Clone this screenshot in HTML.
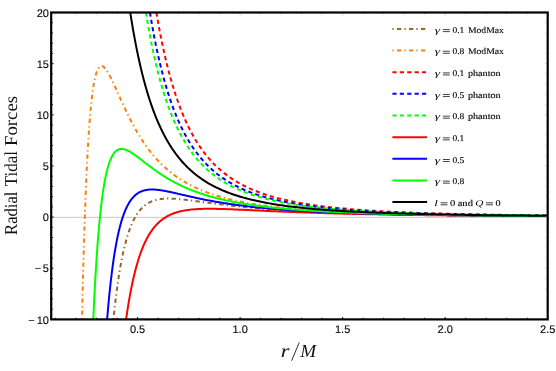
<!DOCTYPE html>
<html><head><meta charset="utf-8"><title>Radial Tidal Forces</title>
<style>html,body{margin:0;padding:0;background:#fff;}body{width:556px;height:371px;position:relative;overflow:hidden;font-family:"Liberation Sans",sans-serif;}</style>
</head><body>
<svg width="556" height="371" viewBox="0 0 556 371" style="position:absolute;left:0;top:0">
<defs><clipPath id="c"><rect x="51.2" y="12.5" width="496.50000000000006" height="306.9"/></clipPath></defs>
<rect width="556" height="371" fill="#fff"/>
<line x1="51.2" x2="547.7" y1="217.35" y2="217.35" stroke="#a0a0a0" stroke-width="0.6"/>
<g clip-path="url(#c)" fill="none" stroke-width="2" stroke-linejoin="round">
<path d="M113.42,319.40 L113.43,319.29 L113.87,314.97 L114.32,310.81 L114.76,306.80 L115.21,302.93 L115.65,299.19 L116.09,295.59 L116.54,292.12 L116.98,288.76 L117.43,285.53 L117.87,282.40 L118.31,279.39 L118.76,276.48 L119.20,273.67 L119.64,270.96 L120.09,268.35 L120.53,265.82 L120.98,263.39 L121.42,261.03 L121.86,258.76 L122.31,256.57 L122.75,254.45 L123.20,252.40 L123.64,250.43 L124.08,248.52 L124.53,246.68 L124.97,244.90 L125.42,243.18 L125.86,241.52 L126.30,239.92 L126.75,238.37 L127.19,236.88 L127.64,235.43 L128.08,234.04 L128.52,232.69 L128.97,231.39 L129.41,230.14 L129.86,228.92 L130.30,227.75 L130.74,226.62 L131.19,225.53 L131.63,224.47 L132.08,223.45 L132.52,222.47 L132.96,221.52 L133.41,220.60 L133.85,219.72 L134.30,218.86 L134.74,218.04 L135.18,217.24 L135.63,216.47 L136.07,215.73 L136.52,215.02 L136.96,214.33 L137.40,213.66 L137.85,213.02 L138.29,212.40 L138.74,211.80 L139.18,211.22 L139.62,210.66 L140.07,210.13 L140.51,209.61 L140.96,209.11 L141.40,208.63 L141.84,208.17 L142.29,207.72 L142.73,207.30 L143.18,206.88 L143.62,206.48 L144.06,206.10 L144.51,205.73 L144.95,205.38 L145.39,205.04 L145.84,204.71 L146.28,204.39 L146.73,204.09 L147.17,203.80 L147.61,203.52 L148.06,203.25 L148.50,202.99 L148.95,202.75 L149.39,202.51 L149.83,202.28 L150.28,202.06 L150.72,201.86 L151.17,201.66 L151.61,201.47 L152.05,201.28 L152.50,201.11 L152.94,200.94 L153.39,200.79 L153.83,200.63 L154.27,200.49 L154.72,200.35 L155.16,200.22 L155.61,200.10 L156.05,199.98 L156.49,199.87 L156.94,199.77 L157.38,199.67 L157.83,199.57 L158.27,199.48 L158.71,199.40 L159.16,199.32 L159.60,199.25 L160.05,199.18 L160.49,199.11 L160.93,199.05 L161.38,199.00 L161.82,198.95 L162.27,198.90 L162.71,198.86 L163.15,198.82 L163.60,198.78 L164.04,198.75 L164.49,198.72 L164.93,198.70 L165.37,198.67 L165.82,198.66 L166.26,198.64 L166.71,198.63 L167.15,198.62 L167.59,198.61 L168.04,198.60 L168.48,198.60 L168.93,198.60 L169.37,198.60 L169.81,198.61 L170.26,198.62 L170.70,198.63 L171.15,198.64 L171.59,198.65 L172.03,198.67 L172.48,198.68 L172.92,198.70 L173.36,198.72 L173.81,198.75 L174.25,198.77 L174.70,198.80 L175.14,198.82 L175.58,198.85 L176.03,198.88 L176.47,198.92 L176.92,198.95 L177.36,198.98 L177.80,199.02 L178.25,199.06 L178.69,199.09 L179.14,199.13 L179.58,199.17 L180.02,199.21 L180.47,199.26 L180.91,199.30 L181.36,199.34 L181.80,199.39 L182.24,199.43 L182.69,199.48 L183.13,199.53 L183.58,199.58 L184.02,199.63 L184.46,199.68 L184.91,199.73 L185.35,199.78 L185.80,199.83 L186.24,199.88 L186.68,199.93 L187.13,199.99 L187.57,200.04 L188.02,200.09 L188.46,200.15 L188.90,200.20 L189.35,200.26 L189.79,200.31 L190.24,200.37 L190.68,200.43 L191.12,200.48 L191.57,200.54 L192.01,200.60 L192.46,200.66 L192.90,200.71 L193.34,200.77 L193.79,200.83 L194.23,200.89 L194.68,200.95 L195.12,201.01 L195.56,201.07 L196.01,201.13 L196.45,201.19 L196.90,201.25 L197.34,201.31 L197.78,201.37 L198.23,201.43 L198.67,201.49 L199.12,201.55 L201.45,201.86 L203.79,202.18 L206.13,202.50 L208.47,202.82 L210.81,203.13 L213.15,203.44 L215.49,203.74 L217.83,204.04 L220.17,204.34 L222.51,204.63 L224.85,204.92 L227.19,205.20 L229.53,205.47 L231.87,205.74 L234.21,206.00 L236.55,206.26 L238.89,206.51 L241.23,206.75 L243.57,206.99 L245.90,207.22 L248.24,207.45 L250.58,207.67 L252.92,207.89 L255.26,208.09 L257.60,208.30 L259.94,208.50 L262.28,208.69 L264.62,208.88 L266.96,209.07 L269.30,209.24 L271.64,209.42 L273.98,209.59 L276.32,209.75 L278.66,209.92 L281.00,210.07 L283.34,210.22 L285.68,210.37 L288.02,210.52 L290.36,210.66 L292.69,210.80 L295.03,210.93 L297.37,211.06 L299.71,211.19 L302.05,211.31 L304.39,211.43 L306.73,211.55 L309.07,211.66 L311.41,211.77 L313.75,211.88 L316.09,211.99 L318.43,212.09 L320.77,212.19 L323.11,212.29 L325.45,212.38 L327.79,212.47 L330.13,212.56 L332.47,212.65 L334.81,212.74 L337.15,212.82 L339.48,212.90 L341.82,212.98 L344.16,213.06 L346.50,213.14 L348.84,213.21 L351.18,213.29 L353.52,213.36 L355.86,213.43 L358.20,213.49 L360.54,213.56 L362.88,213.62 L365.22,213.69 L367.56,213.75 L369.90,213.81 L372.24,213.87 L374.58,213.92 L376.92,213.98 L379.26,214.03 L381.60,214.09 L383.94,214.14 L386.27,214.19 L388.61,214.24 L390.95,214.29 L393.29,214.34 L395.63,214.38 L397.97,214.43 L400.31,214.47 L402.65,214.52 L404.99,214.56 L407.33,214.60 L409.67,214.64 L412.01,214.68 L414.35,214.72 L416.69,214.76 L419.03,214.80 L421.37,214.83 L423.71,214.87 L426.05,214.90 L428.39,214.94 L430.73,214.97 L433.06,215.01 L435.40,215.04 L437.74,215.07 L440.08,215.10 L442.42,215.13 L444.76,215.16 L447.10,215.19 L449.44,215.22 L451.78,215.25 L454.12,215.28 L456.46,215.30 L458.80,215.33 L461.14,215.36 L463.48,215.38 L465.82,215.41 L468.16,215.43 L470.50,215.45 L472.84,215.48 L475.18,215.50 L477.52,215.52 L479.85,215.55 L482.19,215.57 L484.53,215.59 L486.87,215.61 L489.21,215.63 L491.55,215.65 L493.89,215.67 L496.23,215.69 L498.57,215.71 L500.91,215.73 L503.25,215.75 L505.59,215.77 L507.93,215.79 L510.27,215.80 L512.61,215.82 L514.95,215.84 L517.29,215.85 L519.63,215.87 L521.97,215.89 L524.31,215.90 L526.64,215.92 L528.98,215.93 L531.32,215.95 L533.66,215.96 L536.00,215.98 L538.34,215.99 L540.68,216.01 L543.02,216.02 L545.36,216.03 L547.70,216.05" stroke="#9a6327" stroke-dasharray="1.3 3.3 4.3 3.1"/>
<path d="M82.01,319.40 L82.06,317.47 L82.50,298.29 L82.94,280.40 L83.39,263.73 L83.83,248.20 L84.28,233.73 L84.72,220.25 L85.16,207.69 L85.61,196.01 L86.05,185.14 L86.50,175.03 L86.94,165.62 L87.38,156.89 L87.83,148.78 L88.27,141.25 L88.72,134.27 L89.16,127.81 L89.60,121.82 L90.05,116.29 L90.49,111.17 L90.94,106.46 L91.38,102.11 L91.82,98.12 L92.27,94.45 L92.71,91.09 L93.15,88.02 L93.60,85.21 L94.04,82.66 L94.49,80.35 L94.93,78.26 L95.37,76.38 L95.82,74.70 L96.26,73.20 L96.71,71.87 L97.15,70.71 L97.59,69.70 L98.04,68.83 L98.48,68.09 L98.93,67.48 L99.37,66.99 L99.81,66.61 L100.26,66.33 L100.70,66.15 L101.15,66.05 L101.59,66.04 L102.03,66.12 L102.48,66.26 L102.92,66.47 L103.37,66.75 L103.81,67.09 L104.25,67.49 L104.70,67.93 L105.14,68.43 L105.59,68.97 L106.03,69.55 L106.47,70.17 L106.92,70.83 L107.36,71.53 L107.81,72.25 L108.25,73.00 L108.69,73.78 L109.14,74.58 L109.58,75.41 L110.03,76.25 L110.47,77.12 L110.91,78.00 L111.36,78.90 L111.80,79.81 L112.25,80.73 L112.69,81.67 L113.13,82.61 L113.58,83.57 L114.02,84.53 L114.47,85.50 L114.91,86.48 L115.35,87.46 L115.80,88.44 L116.24,89.43 L116.69,90.42 L117.13,91.41 L117.57,92.40 L118.02,93.40 L118.46,94.39 L118.90,95.38 L119.35,96.38 L119.79,97.37 L120.24,98.35 L120.68,99.34 L121.12,100.32 L121.57,101.30 L122.01,102.28 L122.46,103.25 L122.90,104.22 L123.34,105.18 L123.79,106.14 L124.23,107.10 L124.68,108.05 L125.12,108.99 L125.56,109.93 L126.01,110.86 L126.45,111.79 L126.90,112.71 L127.34,113.62 L127.78,114.53 L128.23,115.43 L128.67,116.33 L129.12,117.21 L129.56,118.10 L130.00,118.97 L130.45,119.84 L130.89,120.70 L131.34,121.55 L131.78,122.40 L132.22,123.24 L132.67,124.07 L133.11,124.90 L133.56,125.72 L134.00,126.53 L134.44,127.34 L134.89,128.13 L135.33,128.92 L135.78,129.71 L136.22,130.48 L136.66,131.25 L137.11,132.01 L137.55,132.77 L138.00,133.52 L138.44,134.26 L138.88,134.99 L139.33,135.72 L139.77,136.44 L140.22,137.15 L140.66,137.86 L141.10,138.56 L141.55,139.25 L141.99,139.93 L142.44,140.61 L142.88,141.29 L143.32,141.95 L143.77,142.61 L144.21,143.26 L144.66,143.91 L145.10,144.55 L145.54,145.18 L145.99,145.81 L146.43,146.43 L146.87,147.04 L147.32,147.65 L147.76,148.26 L148.21,148.85 L148.65,149.44 L149.09,150.03 L149.54,150.60 L149.98,151.18 L150.43,151.74 L150.87,152.30 L151.31,152.86 L151.76,153.41 L152.20,153.95 L152.65,154.49 L153.09,155.03 L153.53,155.55 L153.98,156.08 L154.42,156.59 L154.87,157.10 L155.31,157.61 L155.75,158.11 L156.20,158.61 L156.64,159.10 L157.09,159.59 L157.53,160.07 L157.97,160.54 L158.42,161.02 L158.86,161.48 L159.31,161.94 L159.75,162.40 L160.19,162.85 L160.64,163.30 L161.08,163.75 L161.53,164.18 L161.97,164.62 L162.41,165.05 L162.86,165.48 L163.30,165.90 L163.75,166.31 L164.19,166.73 L164.63,167.14 L165.08,167.54 L165.52,167.94 L165.97,168.34 L166.41,168.73 L166.85,169.12 L167.30,169.51 L167.74,169.89 L168.19,170.26 L168.63,170.64 L169.07,171.01 L169.52,171.37 L169.96,171.74 L170.41,172.09 L170.85,172.45 L171.29,172.80 L171.74,173.15 L172.18,173.49 L172.62,173.84 L173.07,174.17 L173.51,174.51 L173.96,174.84 L174.40,175.17 L174.84,175.49 L175.29,175.82 L175.73,176.13 L176.18,176.45 L176.62,176.76 L177.06,177.07 L177.51,177.38 L177.95,177.68 L178.40,177.98 L178.84,178.28 L179.28,178.58 L179.73,178.87 L180.17,179.16 L180.62,179.44 L181.06,179.73 L181.50,180.01 L181.95,180.29 L182.39,180.56 L182.84,180.83 L183.28,181.10 L183.72,181.37 L184.17,181.64 L184.61,181.90 L185.06,182.16 L185.50,182.42 L185.94,182.67 L186.39,182.93 L186.83,183.18 L187.28,183.42 L187.72,183.67 L188.16,183.91 L188.61,184.15 L189.05,184.39 L189.50,184.63 L189.94,184.87 L190.38,185.10 L190.83,185.33 L191.27,185.56 L191.72,185.78 L192.16,186.01 L192.60,186.23 L193.05,186.45 L193.49,186.67 L193.94,186.88 L194.38,187.10 L194.82,187.31 L195.27,187.52 L195.71,187.73 L196.16,187.93 L196.60,188.14 L197.04,188.34 L197.49,188.54 L197.93,188.74 L198.38,188.93 L198.82,189.13 L201.45,190.25 L203.79,191.20 L206.13,192.11 L208.47,192.97 L210.81,193.80 L213.15,194.59 L215.49,195.35 L217.83,196.07 L220.17,196.76 L222.51,197.42 L224.85,198.06 L227.19,198.67 L229.53,199.25 L231.87,199.81 L234.21,200.34 L236.55,200.86 L238.89,201.35 L241.23,201.83 L243.57,202.28 L245.90,202.72 L248.24,203.14 L250.58,203.55 L252.92,203.93 L255.26,204.31 L257.60,204.67 L259.94,205.02 L262.28,205.35 L264.62,205.68 L266.96,205.99 L269.30,206.29 L271.64,206.58 L273.98,206.86 L276.32,207.13 L278.66,207.39 L281.00,207.64 L283.34,207.88 L285.68,208.12 L288.02,208.34 L290.36,208.56 L292.69,208.78 L295.03,208.98 L297.37,209.18 L299.71,209.37 L302.05,209.56 L304.39,209.74 L306.73,209.91 L309.07,210.08 L311.41,210.25 L313.75,210.40 L316.09,210.56 L318.43,210.71 L320.77,210.85 L323.11,210.99 L325.45,211.13 L327.79,211.26 L330.13,211.39 L332.47,211.52 L334.81,211.64 L337.15,211.75 L339.48,211.87 L341.82,211.98 L344.16,212.09 L346.50,212.19 L348.84,212.30 L351.18,212.39 L353.52,212.49 L355.86,212.59 L358.20,212.68 L360.54,212.77 L362.88,212.85 L365.22,212.94 L367.56,213.02 L369.90,213.10 L372.24,213.18 L374.58,213.25 L376.92,213.33 L379.26,213.40 L381.60,213.47 L383.94,213.54 L386.27,213.60 L388.61,213.67 L390.95,213.73 L393.29,213.80 L395.63,213.86 L397.97,213.92 L400.31,213.97 L402.65,214.03 L404.99,214.08 L407.33,214.14 L409.67,214.19 L412.01,214.24 L414.35,214.29 L416.69,214.34 L419.03,214.39 L421.37,214.43 L423.71,214.48 L426.05,214.52 L428.39,214.57 L430.73,214.61 L433.06,214.65 L435.40,214.69 L437.74,214.73 L440.08,214.77 L442.42,214.81 L444.76,214.85 L447.10,214.88 L449.44,214.92 L451.78,214.95 L454.12,214.99 L456.46,215.02 L458.80,215.05 L461.14,215.09 L463.48,215.12 L465.82,215.15 L468.16,215.18 L470.50,215.21 L472.84,215.24 L475.18,215.26 L477.52,215.29 L479.85,215.32 L482.19,215.35 L484.53,215.37 L486.87,215.40 L489.21,215.42 L491.55,215.45 L493.89,215.47 L496.23,215.50 L498.57,215.52 L500.91,215.54 L503.25,215.56 L505.59,215.59 L507.93,215.61 L510.27,215.63 L512.61,215.65 L514.95,215.67 L517.29,215.69 L519.63,215.71 L521.97,215.73 L524.31,215.75 L526.64,215.77 L528.98,215.78 L531.32,215.80 L533.66,215.82 L536.00,215.84 L538.34,215.85 L540.68,215.87 L543.02,215.89 L545.36,215.90 L547.70,215.92" stroke="#ff8000" stroke-dasharray="1.3 3.3 4.3 3.1"/>
<path d="M156.38,12.50 L156.42,12.71 L156.86,15.32 L157.31,17.89 L157.75,20.41 L158.20,22.89 L158.64,25.33 L159.08,27.73 L159.53,30.09 L159.97,32.42 L160.42,34.70 L160.86,36.95 L161.30,39.16 L161.75,41.34 L162.19,43.48 L162.64,45.59 L163.08,47.67 L163.52,49.71 L163.97,51.72 L164.41,53.70 L164.86,55.65 L165.30,57.57 L165.74,59.45 L166.19,61.31 L166.63,63.14 L167.08,64.95 L167.52,66.72 L167.96,68.47 L168.41,70.19 L168.85,71.89 L169.30,73.56 L169.74,75.20 L170.18,76.83 L170.63,78.42 L171.07,80.00 L171.52,81.55 L171.96,83.07 L172.40,84.58 L172.85,86.06 L173.29,87.52 L173.73,88.96 L174.18,90.38 L174.62,91.78 L175.07,93.16 L175.51,94.51 L175.95,95.85 L176.40,97.17 L176.84,98.48 L177.29,99.76 L177.73,101.02 L178.17,102.27 L178.62,103.50 L179.06,104.71 L179.51,105.91 L179.95,107.09 L180.39,108.25 L180.84,109.40 L181.28,110.53 L181.73,111.64 L182.17,112.74 L182.61,113.83 L183.06,114.90 L183.50,115.95 L183.95,117.00 L184.39,118.02 L184.83,119.04 L185.28,120.04 L185.72,121.02 L186.17,122.00 L186.61,122.96 L187.05,123.91 L187.50,124.84 L187.94,125.77 L188.39,126.68 L188.83,127.58 L189.27,128.47 L189.72,129.34 L190.16,130.21 L190.61,131.06 L191.05,131.91 L191.49,132.74 L191.94,133.56 L192.38,134.37 L192.83,135.17 L193.27,135.96 L193.71,136.74 L194.16,137.51 L194.60,138.28 L195.05,139.03 L195.49,139.77 L195.93,140.50 L196.38,141.23 L196.82,141.94 L197.27,142.65 L197.71,143.35 L198.15,144.04 L198.60,144.72 L199.04,145.39 L201.45,148.91 L203.79,152.10 L206.13,155.10 L208.47,157.92 L210.81,160.58 L213.15,163.08 L215.49,165.44 L217.83,167.67 L220.17,169.77 L222.51,171.75 L224.85,173.63 L227.19,175.40 L229.53,177.09 L231.87,178.68 L234.21,180.19 L236.55,181.63 L238.89,182.99 L241.23,184.28 L243.57,185.51 L245.90,186.68 L248.24,187.80 L250.58,188.86 L252.92,189.87 L255.26,190.83 L257.60,191.75 L259.94,192.63 L262.28,193.46 L264.62,194.26 L266.96,195.03 L269.30,195.76 L271.64,196.46 L273.98,197.13 L276.32,197.77 L278.66,198.39 L281.00,198.98 L283.34,199.54 L285.68,200.08 L288.02,200.60 L290.36,201.10 L292.69,201.58 L295.03,202.04 L297.37,202.49 L299.71,202.91 L302.05,203.32 L304.39,203.72 L306.73,204.09 L309.07,204.46 L311.41,204.81 L313.75,205.15 L316.09,205.48 L318.43,205.79 L320.77,206.10 L323.11,206.39 L325.45,206.67 L327.79,206.95 L330.13,207.21 L332.47,207.46 L334.81,207.71 L337.15,207.95 L339.48,208.18 L341.82,208.40 L344.16,208.62 L346.50,208.82 L348.84,209.03 L351.18,209.22 L353.52,209.41 L355.86,209.59 L358.20,209.77 L360.54,209.94 L362.88,210.11 L365.22,210.27 L367.56,210.43 L369.90,210.58 L372.24,210.73 L374.58,210.87 L376.92,211.01 L379.26,211.14 L381.60,211.27 L383.94,211.40 L386.27,211.52 L388.61,211.64 L390.95,211.76 L393.29,211.87 L395.63,211.98 L397.97,212.09 L400.31,212.19 L402.65,212.29 L404.99,212.39 L407.33,212.49 L409.67,212.58 L412.01,212.67 L414.35,212.76 L416.69,212.85 L419.03,212.93 L421.37,213.01 L423.71,213.09 L426.05,213.17 L428.39,213.24 L430.73,213.32 L433.06,213.39 L435.40,213.46 L437.74,213.53 L440.08,213.59 L442.42,213.66 L444.76,213.72 L447.10,213.78 L449.44,213.84 L451.78,213.90 L454.12,213.96 L456.46,214.02 L458.80,214.07 L461.14,214.12 L463.48,214.18 L465.82,214.23 L468.16,214.28 L470.50,214.33 L472.84,214.37 L475.18,214.42 L477.52,214.47 L479.85,214.51 L482.19,214.55 L484.53,214.60 L486.87,214.64 L489.21,214.68 L491.55,214.72 L493.89,214.76 L496.23,214.79 L498.57,214.83 L500.91,214.87 L503.25,214.90 L505.59,214.94 L507.93,214.97 L510.27,215.01 L512.61,215.04 L514.95,215.07 L517.29,215.10 L519.63,215.13 L521.97,215.16 L524.31,215.19 L526.64,215.22 L528.98,215.25 L531.32,215.28 L533.66,215.31 L536.00,215.33 L538.34,215.36 L540.68,215.38 L543.02,215.41 L545.36,215.43 L547.70,215.46" stroke="#ff0000" stroke-dasharray="4.2 3.2"/>
<path d="M149.94,12.50 L149.98,12.75 L150.43,15.44 L150.87,18.08 L151.31,20.67 L151.76,23.22 L152.20,25.73 L152.65,28.19 L153.09,30.62 L153.53,33.00 L153.98,35.34 L154.42,37.64 L154.87,39.91 L155.31,42.14 L155.75,44.33 L156.20,46.48 L156.64,48.60 L157.09,50.69 L157.53,52.74 L157.97,54.76 L158.42,56.75 L158.86,58.70 L159.31,60.63 L159.75,62.52 L160.19,64.38 L160.64,66.21 L161.08,68.02 L161.53,69.80 L161.97,71.54 L162.41,73.27 L162.86,74.96 L163.30,76.63 L163.75,78.27 L164.19,79.89 L164.63,81.48 L165.08,83.05 L165.52,84.60 L165.97,86.12 L166.41,87.62 L166.85,89.09 L167.30,90.55 L167.74,91.98 L168.19,93.39 L168.63,94.78 L169.07,96.15 L169.52,97.50 L169.96,98.83 L170.41,100.14 L170.85,101.44 L171.29,102.71 L171.74,103.96 L172.18,105.20 L172.62,106.42 L173.07,107.62 L173.51,108.81 L173.96,109.97 L174.40,111.12 L174.84,112.26 L175.29,113.38 L175.73,114.48 L176.18,115.57 L176.62,116.64 L177.06,117.70 L177.51,118.74 L177.95,119.77 L178.40,120.79 L178.84,121.79 L179.28,122.78 L179.73,123.75 L180.17,124.71 L180.62,125.66 L181.06,126.59 L181.50,127.51 L181.95,128.42 L182.39,129.32 L182.84,130.21 L183.28,131.08 L183.72,131.95 L184.17,132.80 L184.61,133.64 L185.06,134.47 L185.50,135.28 L185.94,136.09 L186.39,136.89 L186.83,137.68 L187.28,138.45 L187.72,139.22 L188.16,139.98 L188.61,140.72 L189.05,141.46 L189.50,142.19 L189.94,142.91 L190.38,143.62 L190.83,144.32 L191.27,145.01 L191.72,145.70 L192.16,146.37 L192.60,147.04 L193.05,147.70 L193.49,148.35 L193.94,148.99 L194.38,149.62 L194.82,150.25 L195.27,150.87 L195.71,151.48 L196.16,152.09 L196.60,152.68 L197.04,153.27 L197.49,153.85 L197.93,154.43 L198.38,155.00 L198.82,155.56 L201.45,158.76 L203.79,161.42 L206.13,163.92 L208.47,166.28 L210.81,168.50 L213.15,170.59 L215.49,172.57 L217.83,174.44 L220.17,176.20 L222.51,177.87 L224.85,179.45 L227.19,180.95 L229.53,182.37 L231.87,183.72 L234.21,185.00 L236.55,186.21 L238.89,187.36 L241.23,188.46 L243.57,189.51 L245.90,190.50 L248.24,191.45 L250.58,192.36 L252.92,193.22 L255.26,194.04 L257.60,194.83 L259.94,195.58 L262.28,196.30 L264.62,196.98 L266.96,197.64 L269.30,198.27 L271.64,198.87 L273.98,199.45 L276.32,200.00 L278.66,200.53 L281.00,201.04 L283.34,201.53 L285.68,202.00 L288.02,202.45 L290.36,202.88 L292.69,203.30 L295.03,203.70 L297.37,204.08 L299.71,204.45 L302.05,204.81 L304.39,205.15 L306.73,205.48 L309.07,205.80 L311.41,206.11 L313.75,206.40 L316.09,206.69 L318.43,206.96 L320.77,207.23 L323.11,207.49 L325.45,207.74 L327.79,207.97 L330.13,208.21 L332.47,208.43 L334.81,208.65 L337.15,208.86 L339.48,209.06 L341.82,209.25 L344.16,209.44 L346.50,209.63 L348.84,209.81 L351.18,209.98 L353.52,210.14 L355.86,210.31 L358.20,210.46 L360.54,210.61 L362.88,210.76 L365.22,210.91 L367.56,211.04 L369.90,211.18 L372.24,211.31 L374.58,211.44 L376.92,211.56 L379.26,211.68 L381.60,211.80 L383.94,211.91 L386.27,212.02 L388.61,212.13 L390.95,212.23 L393.29,212.33 L395.63,212.43 L397.97,212.52 L400.31,212.62 L402.65,212.71 L404.99,212.80 L407.33,212.88 L409.67,212.96 L412.01,213.05 L414.35,213.12 L416.69,213.20 L419.03,213.28 L421.37,213.35 L423.71,213.42 L426.05,213.49 L428.39,213.56 L430.73,213.63 L433.06,213.69 L435.40,213.75 L437.74,213.81 L440.08,213.87 L442.42,213.93 L444.76,213.99 L447.10,214.05 L449.44,214.10 L451.78,214.15 L454.12,214.20 L456.46,214.26 L458.80,214.30 L461.14,214.35 L463.48,214.40 L465.82,214.45 L468.16,214.49 L470.50,214.54 L472.84,214.58 L475.18,214.62 L477.52,214.66 L479.85,214.70 L482.19,214.74 L484.53,214.78 L486.87,214.82 L489.21,214.86 L491.55,214.89 L493.89,214.93 L496.23,214.96 L498.57,215.00 L500.91,215.03 L503.25,215.06 L505.59,215.09 L507.93,215.12 L510.27,215.15 L512.61,215.18 L514.95,215.21 L517.29,215.24 L519.63,215.27 L521.97,215.30 L524.31,215.33 L526.64,215.35 L528.98,215.38 L531.32,215.40 L533.66,215.43 L536.00,215.45 L538.34,215.48 L540.68,215.50 L543.02,215.52 L545.36,215.55 L547.70,215.57" stroke="#0000ff" stroke-dasharray="4.2 3.2"/>
<path d="M145.97,12.50 L145.99,12.64 L146.43,15.37 L146.87,18.05 L147.32,20.69 L147.76,23.28 L148.21,25.83 L148.65,28.33 L149.09,30.79 L149.54,33.21 L149.98,35.58 L150.43,37.92 L150.87,40.22 L151.31,42.47 L151.76,44.69 L152.20,46.88 L152.65,49.02 L153.09,51.14 L153.53,53.21 L153.98,55.25 L154.42,57.26 L154.87,59.24 L155.31,61.18 L155.75,63.10 L156.20,64.98 L156.64,66.83 L157.09,68.65 L157.53,70.44 L157.97,72.21 L158.42,73.94 L158.86,75.65 L159.31,77.34 L159.75,78.99 L160.19,80.62 L160.64,82.23 L161.08,83.81 L161.53,85.36 L161.97,86.90 L162.41,88.40 L162.86,89.89 L163.30,91.35 L163.75,92.79 L164.19,94.21 L164.63,95.61 L165.08,96.99 L165.52,98.34 L165.97,99.68 L166.41,101.00 L166.85,102.29 L167.30,103.57 L167.74,104.83 L168.19,106.07 L168.63,107.29 L169.07,108.50 L169.52,109.69 L169.96,110.86 L170.41,112.01 L170.85,113.15 L171.29,114.27 L171.74,115.38 L172.18,116.46 L172.62,117.54 L173.07,118.60 L173.51,119.64 L173.96,120.67 L174.40,121.69 L174.84,122.69 L175.29,123.68 L175.73,124.65 L176.18,125.61 L176.62,126.56 L177.06,127.49 L177.51,128.41 L177.95,129.32 L178.40,130.22 L178.84,131.11 L179.28,131.98 L179.73,132.84 L180.17,133.69 L180.62,134.53 L181.06,135.36 L181.50,136.17 L181.95,136.98 L182.39,137.77 L182.84,138.56 L183.28,139.33 L183.72,140.10 L184.17,140.85 L184.61,141.60 L185.06,142.33 L185.50,143.06 L185.94,143.77 L186.39,144.48 L186.83,145.18 L187.28,145.87 L187.72,146.55 L188.16,147.22 L188.61,147.89 L189.05,148.54 L189.50,149.19 L189.94,149.83 L190.38,150.46 L190.83,151.08 L191.27,151.70 L191.72,152.31 L192.16,152.91 L192.60,153.50 L193.05,154.09 L193.49,154.67 L193.94,155.24 L194.38,155.80 L194.82,156.36 L195.27,156.91 L195.71,157.46 L196.16,158.00 L196.60,158.53 L197.04,159.06 L197.49,159.57 L197.93,160.09 L198.38,160.60 L198.82,161.10 L201.45,163.96 L203.79,166.33 L206.13,168.57 L208.47,170.68 L210.81,172.67 L213.15,174.55 L215.49,176.33 L217.83,178.00 L220.17,179.59 L222.51,181.10 L224.85,182.52 L227.19,183.87 L229.53,185.15 L231.87,186.37 L234.21,187.53 L236.55,188.63 L238.89,189.67 L241.23,190.67 L243.57,191.62 L245.90,192.52 L248.24,193.38 L250.58,194.20 L252.92,194.99 L255.26,195.74 L257.60,196.45 L259.94,197.14 L262.28,197.79 L264.62,198.42 L266.96,199.02 L269.30,199.59 L271.64,200.14 L273.98,200.67 L276.32,201.18 L278.66,201.66 L281.00,202.13 L283.34,202.58 L285.68,203.01 L288.02,203.42 L290.36,203.82 L292.69,204.20 L295.03,204.57 L297.37,204.92 L299.71,205.26 L302.05,205.59 L304.39,205.91 L306.73,206.21 L309.07,206.51 L311.41,206.79 L313.75,207.06 L316.09,207.33 L318.43,207.58 L320.77,207.83 L323.11,208.07 L325.45,208.30 L327.79,208.52 L330.13,208.73 L332.47,208.94 L334.81,209.14 L337.15,209.33 L339.48,209.52 L341.82,209.70 L344.16,209.88 L346.50,210.05 L348.84,210.22 L351.18,210.38 L353.52,210.53 L355.86,210.68 L358.20,210.83 L360.54,210.97 L362.88,211.11 L365.22,211.24 L367.56,211.37 L369.90,211.50 L372.24,211.62 L374.58,211.74 L376.92,211.85 L379.26,211.96 L381.60,212.07 L383.94,212.18 L386.27,212.28 L388.61,212.38 L390.95,212.48 L393.29,212.57 L395.63,212.66 L397.97,212.75 L400.31,212.84 L402.65,212.93 L404.99,213.01 L407.33,213.09 L409.67,213.17 L412.01,213.24 L414.35,213.32 L416.69,213.39 L419.03,213.46 L421.37,213.53 L423.71,213.60 L426.05,213.66 L428.39,213.73 L430.73,213.79 L433.06,213.85 L435.40,213.91 L437.74,213.97 L440.08,214.02 L442.42,214.08 L444.76,214.13 L447.10,214.18 L449.44,214.23 L451.78,214.28 L454.12,214.33 L456.46,214.38 L458.80,214.43 L461.14,214.47 L463.48,214.52 L465.82,214.56 L468.16,214.61 L470.50,214.65 L472.84,214.69 L475.18,214.73 L477.52,214.77 L479.85,214.80 L482.19,214.84 L484.53,214.88 L486.87,214.91 L489.21,214.95 L491.55,214.98 L493.89,215.02 L496.23,215.05 L498.57,215.08 L500.91,215.11 L503.25,215.14 L505.59,215.17 L507.93,215.20 L510.27,215.23 L512.61,215.26 L514.95,215.29 L517.29,215.32 L519.63,215.34 L521.97,215.37 L524.31,215.39 L526.64,215.42 L528.98,215.44 L531.32,215.47 L533.66,215.49 L536.00,215.52 L538.34,215.54 L540.68,215.56 L543.02,215.58 L545.36,215.60 L547.70,215.63" stroke="#00ff00" stroke-dasharray="4.2 3.2"/>
<path d="M126.09,319.40 L126.16,318.91 L126.60,315.83 L127.04,312.85 L127.49,309.95 L127.93,307.13 L128.38,304.40 L128.82,301.74 L129.26,299.16 L129.71,296.65 L130.15,294.22 L130.60,291.86 L131.04,289.56 L131.48,287.33 L131.93,285.16 L132.37,283.05 L132.82,281.00 L133.26,279.01 L133.70,277.08 L134.15,275.20 L134.59,273.37 L135.04,271.59 L135.48,269.86 L135.92,268.18 L136.37,266.55 L136.81,264.96 L137.26,263.42 L137.70,261.91 L138.14,260.45 L138.59,259.03 L139.03,257.65 L139.48,256.30 L139.92,255.00 L140.36,253.72 L140.81,252.49 L141.25,251.28 L141.70,250.11 L142.14,248.97 L142.58,247.86 L143.03,246.78 L143.47,245.73 L143.92,244.71 L144.36,243.71 L144.80,242.74 L145.25,241.80 L145.69,240.88 L146.13,239.99 L146.58,239.12 L147.02,238.28 L147.47,237.45 L147.91,236.65 L148.35,235.87 L148.80,235.11 L149.24,234.37 L149.69,233.65 L150.13,232.95 L150.57,232.27 L151.02,231.60 L151.46,230.96 L151.91,230.33 L152.35,229.72 L152.79,229.12 L153.24,228.54 L153.68,227.97 L154.13,227.42 L154.57,226.88 L155.01,226.36 L155.46,225.85 L155.90,225.36 L156.35,224.87 L156.79,224.40 L157.23,223.95 L157.68,223.50 L158.12,223.07 L158.57,222.65 L159.01,222.24 L159.45,221.84 L159.90,221.45 L160.34,221.07 L160.79,220.70 L161.23,220.34 L161.67,219.99 L162.12,219.65 L162.56,219.31 L163.01,218.99 L163.45,218.68 L163.89,218.37 L164.34,218.07 L164.78,217.78 L165.23,217.50 L165.67,217.23 L166.11,216.96 L166.56,216.70 L167.00,216.45 L167.45,216.20 L167.89,215.96 L168.33,215.73 L168.78,215.50 L169.22,215.28 L169.67,215.06 L170.11,214.86 L170.55,214.65 L171.00,214.45 L171.44,214.26 L171.89,214.08 L172.33,213.89 L172.77,213.72 L173.22,213.55 L173.66,213.38 L174.10,213.22 L174.55,213.06 L174.99,212.91 L175.44,212.76 L175.88,212.61 L176.32,212.47 L176.77,212.33 L177.21,212.20 L177.66,212.07 L178.10,211.95 L178.54,211.83 L178.99,211.71 L179.43,211.59 L179.88,211.48 L180.32,211.38 L180.76,211.27 L181.21,211.17 L181.65,211.07 L182.10,210.98 L182.54,210.88 L182.98,210.80 L183.43,210.71 L183.87,210.63 L184.32,210.54 L184.76,210.47 L185.20,210.39 L185.65,210.32 L186.09,210.24 L186.54,210.18 L186.98,210.11 L187.42,210.05 L187.87,209.98 L188.31,209.92 L188.76,209.87 L189.20,209.81 L189.64,209.76 L190.09,209.70 L190.53,209.65 L190.98,209.61 L191.42,209.56 L191.86,209.52 L192.31,209.47 L192.75,209.43 L193.20,209.39 L193.64,209.35 L194.08,209.32 L194.53,209.28 L194.97,209.25 L195.42,209.22 L195.86,209.19 L196.30,209.16 L196.75,209.13 L197.19,209.10 L197.64,209.08 L198.08,209.05 L198.52,209.03 L198.97,209.01 L201.45,208.91 L203.79,208.85 L206.13,208.81 L208.47,208.79 L210.81,208.79 L213.15,208.81 L215.49,208.84 L217.83,208.89 L220.17,208.94 L222.51,209.01 L224.85,209.08 L227.19,209.16 L229.53,209.25 L231.87,209.34 L234.21,209.43 L236.55,209.53 L238.89,209.64 L241.23,209.74 L243.57,209.85 L245.90,209.96 L248.24,210.06 L250.58,210.17 L252.92,210.28 L255.26,210.39 L257.60,210.50 L259.94,210.61 L262.28,210.72 L264.62,210.83 L266.96,210.93 L269.30,211.04 L271.64,211.14 L273.98,211.25 L276.32,211.35 L278.66,211.45 L281.00,211.55 L283.34,211.65 L285.68,211.74 L288.02,211.84 L290.36,211.93 L292.69,212.02 L295.03,212.11 L297.37,212.20 L299.71,212.29 L302.05,212.37 L304.39,212.46 L306.73,212.54 L309.07,212.62 L311.41,212.70 L313.75,212.78 L316.09,212.85 L318.43,212.93 L320.77,213.00 L323.11,213.07 L325.45,213.14 L327.79,213.21 L330.13,213.28 L332.47,213.34 L334.81,213.41 L337.15,213.47 L339.48,213.53 L341.82,213.59 L344.16,213.65 L346.50,213.71 L348.84,213.77 L351.18,213.83 L353.52,213.88 L355.86,213.94 L358.20,213.99 L360.54,214.04 L362.88,214.09 L365.22,214.14 L367.56,214.19 L369.90,214.24 L372.24,214.28 L374.58,214.33 L376.92,214.37 L379.26,214.42 L381.60,214.46 L383.94,214.50 L386.27,214.54 L388.61,214.59 L390.95,214.62 L393.29,214.66 L395.63,214.70 L397.97,214.74 L400.31,214.78 L402.65,214.81 L404.99,214.85 L407.33,214.88 L409.67,214.92 L412.01,214.95 L414.35,214.98 L416.69,215.01 L419.03,215.05 L421.37,215.08 L423.71,215.11 L426.05,215.14 L428.39,215.16 L430.73,215.19 L433.06,215.22 L435.40,215.25 L437.74,215.28 L440.08,215.30 L442.42,215.33 L444.76,215.35 L447.10,215.38 L449.44,215.40 L451.78,215.43 L454.12,215.45 L456.46,215.47 L458.80,215.50 L461.14,215.52 L463.48,215.54 L465.82,215.56 L468.16,215.58 L470.50,215.61 L472.84,215.63 L475.18,215.65 L477.52,215.67 L479.85,215.68 L482.19,215.70 L484.53,215.72 L486.87,215.74 L489.21,215.76 L491.55,215.78 L493.89,215.79 L496.23,215.81 L498.57,215.83 L500.91,215.85 L503.25,215.86 L505.59,215.88 L507.93,215.89 L510.27,215.91 L512.61,215.92 L514.95,215.94 L517.29,215.95 L519.63,215.97 L521.97,215.98 L524.31,216.00 L526.64,216.01 L528.98,216.02 L531.32,216.04 L533.66,216.05 L536.00,216.06 L538.34,216.08 L540.68,216.09 L543.02,216.10 L545.36,216.11 L547.70,216.12" stroke="#ff0000" />
<path d="M107.13,319.40 L107.14,319.23 L107.58,313.92 L108.03,308.82 L108.47,303.92 L108.92,299.21 L109.36,294.70 L109.80,290.36 L110.25,286.19 L110.69,282.19 L111.14,278.34 L111.58,274.65 L112.02,271.10 L112.47,267.68 L112.91,264.41 L113.36,261.26 L113.80,258.23 L114.24,255.32 L114.69,252.53 L115.13,249.84 L115.58,247.26 L116.02,244.78 L116.46,242.39 L116.91,240.10 L117.35,237.90 L117.80,235.79 L118.24,233.75 L118.68,231.80 L119.13,229.92 L119.57,228.12 L120.01,226.39 L120.46,224.72 L120.90,223.12 L121.35,221.58 L121.79,220.11 L122.23,218.69 L122.68,217.33 L123.12,216.02 L123.57,214.77 L124.01,213.56 L124.45,212.40 L124.90,211.29 L125.34,210.23 L125.79,209.20 L126.23,208.22 L126.67,207.28 L127.12,206.38 L127.56,205.51 L128.01,204.68 L128.45,203.89 L128.89,203.12 L129.34,202.39 L129.78,201.69 L130.23,201.02 L130.67,200.38 L131.11,199.77 L131.56,199.18 L132.00,198.62 L132.45,198.08 L132.89,197.57 L133.33,197.08 L133.78,196.61 L134.22,196.17 L134.67,195.74 L135.11,195.34 L135.55,194.95 L136.00,194.58 L136.44,194.23 L136.89,193.90 L137.33,193.59 L137.77,193.29 L138.22,193.00 L138.66,192.73 L139.11,192.48 L139.55,192.23 L139.99,192.01 L140.44,191.79 L140.88,191.59 L141.33,191.40 L141.77,191.22 L142.21,191.05 L142.66,190.89 L143.10,190.75 L143.55,190.61 L143.99,190.48 L144.43,190.36 L144.88,190.25 L145.32,190.15 L145.76,190.06 L146.21,189.98 L146.65,189.90 L147.10,189.83 L147.54,189.77 L147.98,189.72 L148.43,189.67 L148.87,189.63 L149.32,189.59 L149.76,189.56 L150.20,189.54 L150.65,189.52 L151.09,189.51 L151.54,189.50 L151.98,189.50 L152.42,189.50 L152.87,189.51 L153.31,189.52 L153.76,189.54 L154.20,189.56 L154.64,189.58 L155.09,189.61 L155.53,189.64 L155.98,189.67 L156.42,189.71 L156.86,189.75 L157.31,189.80 L157.75,189.84 L158.20,189.89 L158.64,189.95 L159.08,190.00 L159.53,190.06 L159.97,190.12 L160.42,190.18 L160.86,190.25 L161.30,190.32 L161.75,190.39 L162.19,190.46 L162.64,190.53 L163.08,190.61 L163.52,190.68 L163.97,190.76 L164.41,190.84 L164.86,190.92 L165.30,191.01 L165.74,191.09 L166.19,191.17 L166.63,191.26 L167.08,191.35 L167.52,191.44 L167.96,191.53 L168.41,191.62 L168.85,191.71 L169.30,191.80 L169.74,191.90 L170.18,191.99 L170.63,192.09 L171.07,192.18 L171.52,192.28 L171.96,192.38 L172.40,192.48 L172.85,192.58 L173.29,192.67 L173.73,192.77 L174.18,192.87 L174.62,192.97 L175.07,193.07 L175.51,193.18 L175.95,193.28 L176.40,193.38 L176.84,193.48 L177.29,193.58 L177.73,193.68 L178.17,193.79 L178.62,193.89 L179.06,193.99 L179.51,194.10 L179.95,194.20 L180.39,194.30 L180.84,194.40 L181.28,194.51 L181.73,194.61 L182.17,194.71 L182.61,194.82 L183.06,194.92 L183.50,195.02 L183.95,195.12 L184.39,195.23 L184.83,195.33 L185.28,195.43 L185.72,195.53 L186.17,195.64 L186.61,195.74 L187.05,195.84 L187.50,195.94 L187.94,196.04 L188.39,196.14 L188.83,196.25 L189.27,196.35 L189.72,196.45 L190.16,196.55 L190.61,196.65 L191.05,196.75 L191.49,196.85 L191.94,196.94 L192.38,197.04 L192.83,197.14 L193.27,197.24 L193.71,197.34 L194.16,197.43 L194.60,197.53 L195.05,197.63 L195.49,197.72 L195.93,197.82 L196.38,197.92 L196.82,198.01 L197.27,198.11 L197.71,198.20 L198.15,198.30 L198.60,198.39 L199.04,198.48 L201.45,198.98 L203.79,199.46 L206.13,199.92 L208.47,200.37 L210.81,200.81 L213.15,201.24 L215.49,201.66 L217.83,202.07 L220.17,202.46 L222.51,202.84 L224.85,203.22 L227.19,203.58 L229.53,203.93 L231.87,204.27 L234.21,204.60 L236.55,204.92 L238.89,205.23 L241.23,205.53 L243.57,205.82 L245.90,206.11 L248.24,206.38 L250.58,206.65 L252.92,206.91 L255.26,207.16 L257.60,207.40 L259.94,207.64 L262.28,207.86 L264.62,208.09 L266.96,208.30 L269.30,208.51 L271.64,208.71 L273.98,208.91 L276.32,209.10 L278.66,209.29 L281.00,209.47 L283.34,209.64 L285.68,209.81 L288.02,209.98 L290.36,210.14 L292.69,210.29 L295.03,210.45 L297.37,210.59 L299.71,210.74 L302.05,210.87 L304.39,211.01 L306.73,211.14 L309.07,211.27 L311.41,211.39 L313.75,211.51 L316.09,211.63 L318.43,211.75 L320.77,211.86 L323.11,211.97 L325.45,212.07 L327.79,212.17 L330.13,212.27 L332.47,212.37 L334.81,212.47 L337.15,212.56 L339.48,212.65 L341.82,212.74 L344.16,212.82 L346.50,212.90 L348.84,212.99 L351.18,213.06 L353.52,213.14 L355.86,213.22 L358.20,213.29 L360.54,213.36 L362.88,213.43 L365.22,213.50 L367.56,213.57 L369.90,213.63 L372.24,213.69 L374.58,213.76 L376.92,213.82 L379.26,213.88 L381.60,213.93 L383.94,213.99 L386.27,214.04 L388.61,214.10 L390.95,214.15 L393.29,214.20 L395.63,214.25 L397.97,214.30 L400.31,214.35 L402.65,214.40 L404.99,214.44 L407.33,214.49 L409.67,214.53 L412.01,214.57 L414.35,214.61 L416.69,214.66 L419.03,214.70 L421.37,214.73 L423.71,214.77 L426.05,214.81 L428.39,214.85 L430.73,214.88 L433.06,214.92 L435.40,214.95 L437.74,214.99 L440.08,215.02 L442.42,215.05 L444.76,215.08 L447.10,215.11 L449.44,215.15 L451.78,215.18 L454.12,215.20 L456.46,215.23 L458.80,215.26 L461.14,215.29 L463.48,215.32 L465.82,215.34 L468.16,215.37 L470.50,215.39 L472.84,215.42 L475.18,215.44 L477.52,215.47 L479.85,215.49 L482.19,215.51 L484.53,215.54 L486.87,215.56 L489.21,215.58 L491.55,215.60 L493.89,215.62 L496.23,215.64 L498.57,215.66 L500.91,215.68 L503.25,215.70 L505.59,215.72 L507.93,215.74 L510.27,215.76 L512.61,215.78 L514.95,215.80 L517.29,215.81 L519.63,215.83 L521.97,215.85 L524.31,215.86 L526.64,215.88 L528.98,215.90 L531.32,215.91 L533.66,215.93 L536.00,215.94 L538.34,215.96 L540.68,215.97 L543.02,215.99 L545.36,216.00 L547.70,216.01" stroke="#0000ff" />
<path d="M93.28,319.40 L93.30,318.91 L93.75,309.26 L94.19,300.11 L94.63,291.44 L95.08,283.22 L95.52,275.43 L95.97,268.05 L96.41,261.06 L96.85,254.44 L97.30,248.16 L97.74,242.21 L98.19,236.57 L98.63,231.24 L99.07,226.18 L99.52,221.39 L99.96,216.86 L100.41,212.56 L100.85,208.50 L101.29,204.66 L101.74,201.02 L102.18,197.58 L102.63,194.33 L103.07,191.25 L103.51,188.35 L103.96,185.60 L104.40,183.01 L104.85,180.57 L105.29,178.26 L105.73,176.09 L106.18,174.04 L106.62,172.11 L107.07,170.29 L107.51,168.58 L107.95,166.98 L108.40,165.47 L108.84,164.06 L109.29,162.73 L109.73,161.49 L110.17,160.34 L110.62,159.25 L111.06,158.25 L111.51,157.31 L111.95,156.43 L112.39,155.62 L112.84,154.87 L113.28,154.18 L113.73,153.54 L114.17,152.96 L114.61,152.42 L115.06,151.93 L115.50,151.49 L115.95,151.08 L116.39,150.72 L116.83,150.40 L117.28,150.11 L117.72,149.86 L118.17,149.65 L118.61,149.46 L119.05,149.30 L119.50,149.18 L119.94,149.08 L120.38,149.00 L120.83,148.96 L121.27,148.93 L121.72,148.93 L122.16,148.95 L122.60,148.98 L123.05,149.04 L123.49,149.12 L123.94,149.21 L124.38,149.32 L124.82,149.44 L125.27,149.58 L125.71,149.73 L126.16,149.90 L126.60,150.08 L127.04,150.27 L127.49,150.47 L127.93,150.68 L128.38,150.90 L128.82,151.13 L129.26,151.37 L129.71,151.62 L130.15,151.88 L130.60,152.14 L131.04,152.41 L131.48,152.69 L131.93,152.97 L132.37,153.26 L132.82,153.55 L133.26,153.85 L133.70,154.16 L134.15,154.46 L134.59,154.78 L135.04,155.09 L135.48,155.41 L135.92,155.73 L136.37,156.06 L136.81,156.39 L137.26,156.72 L137.70,157.05 L138.14,157.38 L138.59,157.72 L139.03,158.05 L139.48,158.39 L139.92,158.73 L140.36,159.07 L140.81,159.42 L141.25,159.76 L141.70,160.10 L142.14,160.45 L142.58,160.79 L143.03,161.13 L143.47,161.48 L143.92,161.82 L144.36,162.17 L144.80,162.51 L145.25,162.85 L145.69,163.19 L146.13,163.54 L146.58,163.88 L147.02,164.22 L147.47,164.56 L147.91,164.90 L148.35,165.24 L148.80,165.57 L149.24,165.91 L149.69,166.24 L150.13,166.58 L150.57,166.91 L151.02,167.24 L151.46,167.57 L151.91,167.90 L152.35,168.22 L152.79,168.55 L153.24,168.87 L153.68,169.20 L154.13,169.52 L154.57,169.84 L155.01,170.15 L155.46,170.47 L155.90,170.78 L156.35,171.10 L156.79,171.41 L157.23,171.72 L157.68,172.02 L158.12,172.33 L158.57,172.63 L159.01,172.93 L159.45,173.23 L159.90,173.53 L160.34,173.83 L160.79,174.12 L161.23,174.42 L161.67,174.71 L162.12,174.99 L162.56,175.28 L163.01,175.57 L163.45,175.85 L163.89,176.13 L164.34,176.41 L164.78,176.69 L165.23,176.96 L165.67,177.24 L166.11,177.51 L166.56,177.78 L167.00,178.05 L167.45,178.31 L167.89,178.58 L168.33,178.84 L168.78,179.10 L169.22,179.36 L169.67,179.62 L170.11,179.87 L170.55,180.13 L171.00,180.38 L171.44,180.63 L171.89,180.87 L172.33,181.12 L172.77,181.36 L173.22,181.61 L173.66,181.85 L174.10,182.08 L174.55,182.32 L174.99,182.56 L175.44,182.79 L175.88,183.02 L176.32,183.25 L176.77,183.48 L177.21,183.70 L177.66,183.93 L178.10,184.15 L178.54,184.37 L178.99,184.59 L179.43,184.81 L179.88,185.03 L180.32,185.24 L180.76,185.45 L181.21,185.66 L181.65,185.87 L182.10,186.08 L182.54,186.29 L182.98,186.49 L183.43,186.70 L183.87,186.90 L184.32,187.10 L184.76,187.30 L185.20,187.49 L185.65,187.69 L186.09,187.88 L186.54,188.07 L186.98,188.26 L187.42,188.45 L187.87,188.64 L188.31,188.83 L188.76,189.01 L189.20,189.20 L189.64,189.38 L190.09,189.56 L190.53,189.74 L190.98,189.92 L191.42,190.09 L191.86,190.27 L192.31,190.44 L192.75,190.61 L193.20,190.78 L193.64,190.95 L194.08,191.12 L194.53,191.29 L194.97,191.45 L195.42,191.62 L195.86,191.78 L196.30,191.94 L196.75,192.10 L197.19,192.26 L197.64,192.42 L198.08,192.58 L198.52,192.73 L198.97,192.89 L201.45,193.73 L203.79,194.49 L206.13,195.22 L208.47,195.92 L210.81,196.60 L213.15,197.24 L215.49,197.86 L217.83,198.46 L220.17,199.03 L222.51,199.58 L224.85,200.11 L227.19,200.62 L229.53,201.11 L231.87,201.58 L234.21,202.04 L236.55,202.47 L238.89,202.90 L241.23,203.30 L243.57,203.69 L245.90,204.07 L248.24,204.43 L250.58,204.78 L252.92,205.12 L255.26,205.44 L257.60,205.76 L259.94,206.06 L262.28,206.35 L264.62,206.64 L266.96,206.91 L269.30,207.17 L271.64,207.43 L273.98,207.68 L276.32,207.91 L278.66,208.14 L281.00,208.37 L283.34,208.58 L285.68,208.79 L288.02,209.00 L290.36,209.19 L292.69,209.38 L295.03,209.56 L297.37,209.74 L299.71,209.92 L302.05,210.08 L304.39,210.24 L306.73,210.40 L309.07,210.55 L311.41,210.70 L313.75,210.85 L316.09,210.99 L318.43,211.12 L320.77,211.25 L323.11,211.38 L325.45,211.50 L327.79,211.63 L330.13,211.74 L332.47,211.86 L334.81,211.97 L337.15,212.07 L339.48,212.18 L341.82,212.28 L344.16,212.38 L346.50,212.48 L348.84,212.57 L351.18,212.66 L353.52,212.75 L355.86,212.84 L358.20,212.92 L360.54,213.00 L362.88,213.08 L365.22,213.16 L367.56,213.24 L369.90,213.31 L372.24,213.38 L374.58,213.45 L376.92,213.52 L379.26,213.59 L381.60,213.65 L383.94,213.72 L386.27,213.78 L388.61,213.84 L390.95,213.90 L393.29,213.96 L395.63,214.01 L397.97,214.07 L400.31,214.12 L402.65,214.17 L404.99,214.23 L407.33,214.28 L409.67,214.33 L412.01,214.37 L414.35,214.42 L416.69,214.47 L419.03,214.51 L421.37,214.55 L423.71,214.60 L426.05,214.64 L428.39,214.68 L430.73,214.72 L433.06,214.76 L435.40,214.80 L437.74,214.83 L440.08,214.87 L442.42,214.91 L444.76,214.94 L447.10,214.98 L449.44,215.01 L451.78,215.04 L454.12,215.07 L456.46,215.11 L458.80,215.14 L461.14,215.17 L463.48,215.20 L465.82,215.23 L468.16,215.25 L470.50,215.28 L472.84,215.31 L475.18,215.34 L477.52,215.36 L479.85,215.39 L482.19,215.41 L484.53,215.44 L486.87,215.46 L489.21,215.49 L491.55,215.51 L493.89,215.53 L496.23,215.55 L498.57,215.58 L500.91,215.60 L503.25,215.62 L505.59,215.64 L507.93,215.66 L510.27,215.68 L512.61,215.70 L514.95,215.72 L517.29,215.74 L519.63,215.76 L521.97,215.78 L524.31,215.79 L526.64,215.81 L528.98,215.83 L531.32,215.85 L533.66,215.86 L536.00,215.88 L538.34,215.89 L540.68,215.91 L543.02,215.93 L545.36,215.94 L547.70,215.96" stroke="#00ff00" />
<path d="M130.25,12.50 L130.30,12.82 L130.74,15.65 L131.19,18.43 L131.63,21.16 L132.08,23.83 L132.52,26.46 L132.96,29.05 L133.41,31.58 L133.85,34.07 L134.30,36.52 L134.74,38.92 L135.18,41.28 L135.63,43.60 L136.07,45.88 L136.52,48.11 L136.96,50.31 L137.40,52.48 L137.85,54.60 L138.29,56.69 L138.74,58.74 L139.18,60.76 L139.62,62.74 L140.07,64.69 L140.51,66.61 L140.96,68.49 L141.40,70.35 L141.84,72.17 L142.29,73.96 L142.73,75.73 L143.18,77.46 L143.62,79.17 L144.06,80.85 L144.51,82.50 L144.95,84.12 L145.39,85.72 L145.84,87.30 L146.28,88.84 L146.73,90.37 L147.17,91.87 L147.61,93.34 L148.06,94.80 L148.50,96.23 L148.95,97.64 L149.39,99.02 L149.83,100.39 L150.28,101.73 L150.72,103.06 L151.17,104.36 L151.61,105.64 L152.05,106.91 L152.50,108.15 L152.94,109.38 L153.39,110.59 L153.83,111.78 L154.27,112.95 L154.72,114.10 L155.16,115.24 L155.61,116.36 L156.05,117.47 L156.49,118.56 L156.94,119.63 L157.38,120.69 L157.83,121.73 L158.27,122.76 L158.71,123.77 L159.16,124.77 L159.60,125.75 L160.05,126.72 L160.49,127.68 L160.93,128.62 L161.38,129.55 L161.82,130.47 L162.27,131.37 L162.71,132.26 L163.15,133.14 L163.60,134.01 L164.04,134.87 L164.49,135.71 L164.93,136.54 L165.37,137.36 L165.82,138.17 L166.26,138.97 L166.71,139.76 L167.15,140.54 L167.59,141.30 L168.04,142.06 L168.48,142.81 L168.93,143.54 L169.37,144.27 L169.81,144.99 L170.26,145.70 L170.70,146.39 L171.15,147.08 L171.59,147.76 L172.03,148.44 L172.48,149.10 L172.92,149.76 L173.36,150.40 L173.81,151.04 L174.25,151.67 L174.70,152.29 L175.14,152.91 L175.58,153.51 L176.03,154.11 L176.47,154.70 L176.92,155.29 L177.36,155.86 L177.80,156.43 L178.25,157.00 L178.69,157.55 L179.14,158.10 L179.58,158.64 L180.02,159.18 L180.47,159.71 L180.91,160.23 L181.36,160.75 L181.80,161.26 L182.24,161.76 L182.69,162.26 L183.13,162.75 L183.58,163.24 L184.02,163.72 L184.46,164.19 L184.91,164.66 L185.35,165.12 L185.80,165.58 L186.24,166.03 L186.68,166.48 L187.13,166.92 L187.57,167.36 L188.02,167.79 L188.46,168.22 L188.90,168.64 L189.35,169.06 L189.79,169.47 L190.24,169.88 L190.68,170.28 L191.12,170.68 L191.57,171.07 L192.01,171.46 L192.46,171.85 L192.90,172.23 L193.34,172.61 L193.79,172.98 L194.23,173.35 L194.68,173.71 L195.12,174.07 L195.56,174.43 L196.01,174.78 L196.45,175.13 L196.90,175.47 L197.34,175.81 L197.78,176.15 L198.23,176.48 L198.67,176.81 L199.12,177.14 L201.45,178.80 L203.79,180.37 L206.13,181.86 L208.47,183.27 L210.81,184.60 L213.15,185.86 L215.49,187.06 L217.83,188.20 L220.17,189.28 L222.51,190.31 L224.85,191.29 L227.19,192.22 L229.53,193.11 L231.87,193.96 L234.21,194.76 L236.55,195.53 L238.89,196.26 L241.23,196.97 L243.57,197.64 L245.90,198.28 L248.24,198.89 L250.58,199.48 L252.92,200.04 L255.26,200.58 L257.60,201.09 L259.94,201.59 L262.28,202.06 L264.62,202.52 L266.96,202.95 L269.30,203.37 L271.64,203.78 L273.98,204.16 L276.32,204.54 L278.66,204.89 L281.00,205.24 L283.34,205.57 L285.68,205.89 L288.02,206.20 L290.36,206.50 L292.69,206.78 L295.03,207.06 L297.37,207.33 L299.71,207.58 L302.05,207.83 L304.39,208.07 L306.73,208.30 L309.07,208.52 L311.41,208.74 L313.75,208.95 L316.09,209.15 L318.43,209.35 L320.77,209.54 L323.11,209.72 L325.45,209.90 L327.79,210.07 L330.13,210.23 L332.47,210.39 L334.81,210.55 L337.15,210.70 L339.48,210.85 L341.82,210.99 L344.16,211.13 L346.50,211.26 L348.84,211.39 L351.18,211.52 L353.52,211.64 L355.86,211.76 L358.20,211.87 L360.54,211.98 L362.88,212.09 L365.22,212.20 L367.56,212.30 L369.90,212.40 L372.24,212.50 L374.58,212.59 L376.92,212.68 L379.26,212.77 L381.60,212.86 L383.94,212.95 L386.27,213.03 L388.61,213.11 L390.95,213.19 L393.29,213.26 L395.63,213.34 L397.97,213.41 L400.31,213.48 L402.65,213.55 L404.99,213.62 L407.33,213.68 L409.67,213.74 L412.01,213.81 L414.35,213.87 L416.69,213.93 L419.03,213.98 L421.37,214.04 L423.71,214.09 L426.05,214.15 L428.39,214.20 L430.73,214.25 L433.06,214.30 L435.40,214.35 L437.74,214.40 L440.08,214.44 L442.42,214.49 L444.76,214.53 L447.10,214.58 L449.44,214.62 L451.78,214.66 L454.12,214.70 L456.46,214.74 L458.80,214.78 L461.14,214.82 L463.48,214.86 L465.82,214.89 L468.16,214.93 L470.50,214.96 L472.84,215.00 L475.18,215.03 L477.52,215.06 L479.85,215.10 L482.19,215.13 L484.53,215.16 L486.87,215.19 L489.21,215.22 L491.55,215.25 L493.89,215.27 L496.23,215.30 L498.57,215.33 L500.91,215.36 L503.25,215.38 L505.59,215.41 L507.93,215.43 L510.27,215.46 L512.61,215.48 L514.95,215.50 L517.29,215.53 L519.63,215.55 L521.97,215.57 L524.31,215.59 L526.64,215.61 L528.98,215.64 L531.32,215.66 L533.66,215.68 L536.00,215.70 L538.34,215.72 L540.68,215.74 L543.02,215.75 L545.36,215.77 L547.70,215.79" stroke="#000000" />
</g>
<path d="M55.58,12.5v2.0 M76.09,12.5v2.0 M96.59,12.5v2.0 M117.10,12.5v2.0 M137.60,12.5v2.7 M158.11,12.5v2.0 M178.61,12.5v2.0 M199.12,12.5v2.0 M219.62,12.5v2.0 M240.12,12.5v2.7 M260.63,12.5v2.0 M281.14,12.5v2.0 M301.64,12.5v2.0 M322.14,12.5v2.0 M342.65,12.5v2.7 M363.16,12.5v2.0 M383.66,12.5v2.0 M404.17,12.5v2.0 M424.67,12.5v2.0 M445.18,12.5v2.7 M465.68,12.5v2.0 M486.19,12.5v2.0 M506.69,12.5v2.0 M527.20,12.5v2.0 M547.70,12.5v2.7 M547.7,319.40h-2.7 M547.7,309.17h-2.0 M547.7,298.94h-2.0 M547.7,288.71h-2.0 M547.7,278.48h-2.0 M547.7,268.25h-2.7 M547.7,258.02h-2.0 M547.7,247.79h-2.0 M547.7,237.56h-2.0 M547.7,227.33h-2.0 M547.7,217.10h-2.7 M547.7,206.87h-2.0 M547.7,196.64h-2.0 M547.7,186.41h-2.0 M547.7,176.18h-2.0 M547.7,165.95h-2.7 M547.7,155.72h-2.0 M547.7,145.49h-2.0 M547.7,135.26h-2.0 M547.7,125.03h-2.0 M547.7,114.80h-2.7 M547.7,104.57h-2.0 M547.7,94.34h-2.0 M547.7,84.11h-2.0 M547.7,73.88h-2.0 M547.7,63.65h-2.7 M547.7,53.42h-2.0 M547.7,43.19h-2.0 M547.7,32.96h-2.0 M547.7,22.73h-2.0 M547.7,12.50h-2.7" stroke="#aaa" stroke-width="0.6" fill="none"/>
<rect x="51.2" y="12.5" width="496.50000000000006" height="306.9" fill="none" stroke="#000" stroke-width="2.2"/>
<path d="M55.58,319.4v-1.6 M76.09,319.4v-1.6 M96.59,319.4v-1.6 M117.10,319.4v-1.6 M137.60,319.4v-2.3 M158.11,319.4v-1.6 M178.61,319.4v-1.6 M199.12,319.4v-1.6 M219.62,319.4v-1.6 M240.12,319.4v-2.3 M260.63,319.4v-1.6 M281.14,319.4v-1.6 M301.64,319.4v-1.6 M322.14,319.4v-1.6 M342.65,319.4v-2.3 M363.16,319.4v-1.6 M383.66,319.4v-1.6 M404.17,319.4v-1.6 M424.67,319.4v-1.6 M445.18,319.4v-2.3 M465.68,319.4v-1.6 M486.19,319.4v-1.6 M506.69,319.4v-1.6 M527.20,319.4v-1.6 M547.70,319.4v-2.3 M51.2,319.40h2.3 M51.2,309.17h1.6 M51.2,298.94h1.6 M51.2,288.71h1.6 M51.2,278.48h1.6 M51.2,268.25h2.3 M51.2,258.02h1.6 M51.2,247.79h1.6 M51.2,237.56h1.6 M51.2,227.33h1.6 M51.2,217.10h2.3 M51.2,206.87h1.6 M51.2,196.64h1.6 M51.2,186.41h1.6 M51.2,176.18h1.6 M51.2,165.95h2.3 M51.2,155.72h1.6 M51.2,145.49h1.6 M51.2,135.26h1.6 M51.2,125.03h1.6 M51.2,114.80h2.3 M51.2,104.57h1.6 M51.2,94.34h1.6 M51.2,84.11h1.6 M51.2,73.88h1.6 M51.2,63.65h2.3 M51.2,53.42h1.6 M51.2,43.19h1.6 M51.2,32.96h1.6 M51.2,22.73h1.6 M51.2,12.50h2.3" stroke="#000" stroke-width="1" fill="none"/>
<g opacity="0.99" text-rendering="geometricPrecision">
<g font-family="Liberation Sans, sans-serif" font-size="11" fill="#000" stroke="#000" stroke-width="0.12">
<text x="48.9" y="323.50" text-anchor="end">10</text>
<text x="34.6" y="323.50" text-anchor="end">−</text>
<text x="48.9" y="272.35" text-anchor="end">5</text>
<text x="41.1" y="272.35" text-anchor="end">−</text>
<text x="48.9" y="221.20" text-anchor="end">0</text>
<text x="48.9" y="170.05" text-anchor="end">5</text>
<text x="48.9" y="118.90" text-anchor="end">10</text>
<text x="48.9" y="67.75" text-anchor="end">15</text>
<text x="48.9" y="16.60" text-anchor="end">20</text>
<text x="137.60" y="333.1" text-anchor="middle">0.5</text>
<text x="240.12" y="333.1" text-anchor="middle">1.0</text>
<text x="342.65" y="333.1" text-anchor="middle">1.5</text>
<text x="445.18" y="333.1" text-anchor="middle">2.0</text>
<text x="547.70" y="333.1" text-anchor="middle">2.5</text>
</g>
<g font-family="Liberation Serif, serif" fill="#000" stroke="#000" stroke-width="0.14">
<line x1="392.4" x2="427.1" y1="28.90" y2="28.90" stroke="#9a6327" stroke-width="2" stroke-dasharray="1.3 3.3 4.3 3.1"/>
<text transform="translate(434.76,32.75) scale(1.5521,1)" font-size="8.8" font-style="italic" stroke="none">γ</text>
<path d="M442.9,29.60H449.8M442.9,31.60H449.8" stroke="#000" stroke-width="0.75" fill="none"/>
<text transform="translate(452.42,32.75) scale(1.0776,1)" font-size="8.8">0.1</text>
<text transform="translate(467.91,32.75) scale(1.0988,1)" font-size="8.8">ModMax</text>
<line x1="392.4" x2="427.1" y1="50.55" y2="50.55" stroke="#ff8000" stroke-width="2" stroke-dasharray="1.3 3.3 4.3 3.1"/>
<text transform="translate(434.76,54.40) scale(1.5521,1)" font-size="8.8" font-style="italic" stroke="none">γ</text>
<path d="M442.9,51.25H449.8M442.9,53.25H449.8" stroke="#000" stroke-width="0.75" fill="none"/>
<text transform="translate(452.42,54.40) scale(1.0776,1)" font-size="8.8">0.8</text>
<text transform="translate(467.91,54.40) scale(1.0988,1)" font-size="8.8">ModMax</text>
<line x1="392.4" x2="427.1" y1="72.20" y2="72.20" stroke="#ff0000" stroke-width="2" stroke-dasharray="4.2 3.2"/>
<text transform="translate(434.76,76.05) scale(1.5521,1)" font-size="8.8" font-style="italic" stroke="none">γ</text>
<path d="M442.9,72.90H449.8M442.9,74.90H449.8" stroke="#000" stroke-width="0.75" fill="none"/>
<text transform="translate(452.42,76.05) scale(1.0776,1)" font-size="8.8">0.1</text>
<text transform="translate(468.00,76.05) scale(1.1500,1)" font-size="8.8">phanton</text>
<line x1="392.4" x2="427.1" y1="93.85" y2="93.85" stroke="#0000ff" stroke-width="2" stroke-dasharray="4.2 3.2"/>
<text transform="translate(434.76,97.70) scale(1.5521,1)" font-size="8.8" font-style="italic" stroke="none">γ</text>
<path d="M442.9,94.55H449.8M442.9,96.55H449.8" stroke="#000" stroke-width="0.75" fill="none"/>
<text transform="translate(452.42,97.70) scale(1.0776,1)" font-size="8.8">0.5</text>
<text transform="translate(468.00,97.70) scale(1.1500,1)" font-size="8.8">phanton</text>
<line x1="392.4" x2="427.1" y1="115.50" y2="115.50" stroke="#00ff00" stroke-width="2" stroke-dasharray="4.2 3.2"/>
<text transform="translate(434.76,119.35) scale(1.5521,1)" font-size="8.8" font-style="italic" stroke="none">γ</text>
<path d="M442.9,116.20H449.8M442.9,118.20H449.8" stroke="#000" stroke-width="0.75" fill="none"/>
<text transform="translate(452.42,119.35) scale(1.0776,1)" font-size="8.8">0.8</text>
<text transform="translate(468.00,119.35) scale(1.1500,1)" font-size="8.8">phanton</text>
<line x1="392.4" x2="427.1" y1="137.15" y2="137.15" stroke="#ff0000" stroke-width="2" />
<text transform="translate(434.76,141.00) scale(1.5521,1)" font-size="8.8" font-style="italic" stroke="none">γ</text>
<path d="M442.9,137.85H449.8M442.9,139.85H449.8" stroke="#000" stroke-width="0.75" fill="none"/>
<text transform="translate(452.42,141.00) scale(1.0776,1)" font-size="8.8">0.1</text>
<line x1="392.4" x2="427.1" y1="158.80" y2="158.80" stroke="#0000ff" stroke-width="2" />
<text transform="translate(434.76,162.65) scale(1.5521,1)" font-size="8.8" font-style="italic" stroke="none">γ</text>
<path d="M442.9,159.50H449.8M442.9,161.50H449.8" stroke="#000" stroke-width="0.75" fill="none"/>
<text transform="translate(452.42,162.65) scale(1.0776,1)" font-size="8.8">0.5</text>
<line x1="392.4" x2="427.1" y1="180.45" y2="180.45" stroke="#00ff00" stroke-width="2" />
<text transform="translate(434.76,184.30) scale(1.5521,1)" font-size="8.8" font-style="italic" stroke="none">γ</text>
<path d="M442.9,181.15H449.8M442.9,183.15H449.8" stroke="#000" stroke-width="0.75" fill="none"/>
<text transform="translate(452.42,184.30) scale(1.0776,1)" font-size="8.8">0.8</text>
<line x1="392.4" x2="427.1" y1="202.10" y2="202.10" stroke="#000000" stroke-width="2" />
<text transform="translate(434.26,205.95) scale(1.4610,1)" font-size="8.8" font-style="italic" stroke="none">l</text>
<path d="M440.6,202.80H447.5M440.6,204.80H447.5" stroke="#000" stroke-width="0.75" fill="none"/>
<text transform="translate(449.98,205.95) scale(1.2138,1)" font-size="8.8">0</text>
<text transform="translate(457.68,205.95) scale(1.1980,1)" font-size="8.8">and</text>
<text transform="translate(475.34,205.95) scale(1.2741,1)" font-size="8.8" font-style="italic" stroke="none">Q</text>
<path d="M486.0,202.80H493.0M486.0,204.80H493.0" stroke="#000" stroke-width="0.75" fill="none"/>
<text transform="translate(495.49,205.95) scale(1.1622,1)" font-size="8.8">0</text>
</g>
<text transform="translate(17.2,234.93) rotate(-90) scale(0.9120,1)" font-family="Liberation Serif, serif" font-size="18.2" fill="#111">Radial</text>
<text transform="translate(17.2,186.17) rotate(-90) scale(0.9312,1)" font-family="Liberation Serif, serif" font-size="18.2" fill="#111">Tidal</text>
<text transform="translate(17.2,145.98) rotate(-90) scale(1.0309,1)" font-family="Liberation Serif, serif" font-size="18.2" fill="#111">Forces</text>
<g font-family="Liberation Serif, serif" fill="#111">
<text transform="translate(280.70,356.70) scale(1.2162,1)" font-size="18.5" font-style="italic" stroke="none">r</text>
<line x1="291.6" y1="360.7" x2="299.2" y2="342.5" stroke="#111" stroke-width="0.9"/>
<text transform="translate(300.28,356.70) scale(1.0390,1)" font-size="18.5" font-style="italic" stroke="none">M</text>
</g>
</g>
</svg>
</body></html>
